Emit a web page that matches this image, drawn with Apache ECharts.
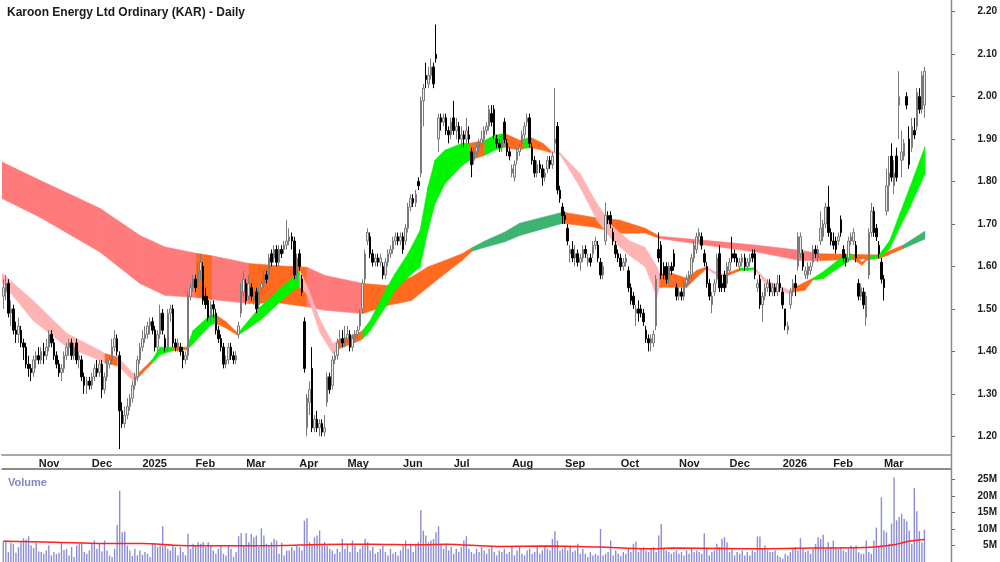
<!DOCTYPE html>
<html>
<head>
<meta charset="utf-8">
<title>KAR Daily</title>
<script src="https://cdn.jsdelivr.net/npm/echarts@6/dist/echarts.min.js"></script>
<style>
  html, body { margin: 0; padding: 0; background: #fff; }
  #chart { width: 1000px; height: 562px; }
</style>
</head>
<body>
<div id="chart"></div>
<script>
// trading days 0..364, Oct 14 2024 -> late Mar 2026
const monthStarts = [14, 35, 55, 76, 96, 117, 136, 158, 178, 201, 222, 244, 267, 287, 308, 328, 348]
const monthNames = ['Nov', 'Dec', '2025', 'Feb', 'Mar', 'Apr', 'May', 'Jun', 'Jul', 'Aug', 'Sep', 'Oct', 'Nov', 'Dec', '2026', 'Feb', 'Mar']
const slotCount = 375

const opens = [
  1.53,1.54,1.56,1.49,1.50,1.45,1.44,1.45,1.42,1.41, 1.37,1.36,1.35,1.38,1.39,1.38,1.40,1.39,1.41,1.44,
  1.42,1.39,1.37,1.35,1.36,1.39,1.41,1.42,1.39,1.42, 1.38,1.38,1.34,1.32,1.33,1.32,1.34,1.36,1.35,1.37,
  1.31,1.34,1.37,1.38,1.41,1.43,1.39,1.26,1.23,1.25, 1.27,1.29,1.32,1.34,1.38,1.41,1.43,1.44,1.46,1.47,
  1.45,1.41,1.44,1.49,1.43,1.41,1.49,1.50,1.42,1.41, 1.41,1.40,1.38,1.39,1.53,1.55,1.57,1.56,1.59,1.60,
  1.53,1.52,1.48,1.51,1.49,1.45,1.43,1.41,1.37,1.38, 1.41,1.39,1.38,1.44,1.49,1.54,1.56,1.53,1.55,1.52,
  1.54,1.51,1.55,1.56,1.58,1.58,1.63,1.62,1.64,1.61, 1.64,1.64,1.65,1.66,1.67,1.66,1.58,1.63,1.57,1.47,
  1.22,1.28,1.36,1.22,1.24,1.22,1.23,1.21,1.28,1.34, 1.32,1.38,1.39,1.42,1.43,1.42,1.43,1.44,1.41,1.43,
  1.44,1.46,1.50,1.57,1.66,1.67,1.63,1.61,1.62,1.61, 1.60,1.58,1.61,1.63,1.64,1.66,1.67,1.66,1.67,1.66,
  1.69,1.74,1.76,1.75,1.80,1.82,1.99,2.05,2.03,2.05, 2.07,2.10,1.90,1.95,1.94,1.95,1.92,1.91,1.95,1.92,
  1.93,1.90,1.91,1.90,1.91,1.87,1.85,1.87,1.88,1.89, 1.90,1.92,1.93,1.96,1.97,1.90,1.89,1.88,1.94,1.89,
  1.87,1.82,1.81,1.85,1.87,1.89,1.91,1.94,1.95,1.88, 1.85,1.82,1.84,1.83,1.81,1.83,1.85,1.84,1.89,1.93,
  1.78,1.74,1.72,1.69,1.63,1.64,1.62,1.63,1.61,1.62, 1.64,1.61,1.62,1.63,1.65,1.65,1.61,1.58,1.66,1.72,
  1.72,1.68,1.65,1.63,1.62,1.60,1.61,1.59,1.55,1.53, 1.49,1.50,1.50,1.49,1.45,1.43,1.42,1.42,1.46,1.64,
  1.65,1.60,1.60,1.57,1.60,1.63,1.55,1.53,1.54,1.53, 1.56,1.57,1.58,1.62,1.64,1.67,1.67,1.63,1.60,1.56,
  1.51,1.54,1.57,1.63,1.56,1.58,1.56,1.59,1.63,1.63, 1.62,1.60,1.61,1.62,1.60,1.61,1.63,1.63,1.55,1.57,
  1.51,1.53,1.55,1.56,1.54,1.55,1.54,1.56,1.54,1.50, 1.45,1.51,1.54,1.56,1.60,1.63,1.63,1.58,1.58,1.59,
  1.61,1.64,1.62,1.66,1.67,1.70,1.74,1.68,1.66,1.66, 1.66,1.71,1.64,1.62,1.62,1.66,1.66,1.65,1.56,1.53,
  1.54,1.48,1.58,1.68,1.73,1.69,1.65,1.61,1.57,1.73, 1.79,1.86,1.79,1.86,1.98,1.85,1.86,2.00,1.90,1.88,
  1.92,1.93,2.00,1.97,1.98
]
const closes = [
  1.55,1.56,1.49,1.50,1.45,1.44,1.46,1.42,1.41,1.37, 1.36,1.35,1.38,1.39,1.38,1.40,1.39,1.41,1.44,1.42,
  1.39,1.37,1.35,1.36,1.39,1.41,1.42,1.39,1.41,1.38, 1.39,1.34,1.32,1.33,1.32,1.34,1.36,1.35,1.37,1.31,
  1.34,1.37,1.38,1.41,1.43,1.40,1.26,1.23,1.25,1.27, 1.29,1.32,1.34,1.38,1.41,1.43,1.44,1.46,1.47,1.45,
  1.41,1.44,1.49,1.45,1.41,1.49,1.50,1.42,1.41,1.42, 1.40,1.38,1.39,1.53,1.55,1.57,1.55,1.59,1.61,1.52,
  1.51,1.48,1.51,1.50,1.45,1.43,1.41,1.37,1.38,1.41, 1.39,1.38,1.39,1.46,1.54,1.57,1.52,1.56,1.53,1.53,
  1.50,1.54,1.56,1.58,1.57,1.62,1.61,1.64,1.61,1.64, 1.63,1.65,1.66,1.67,1.66,1.58,1.62,1.60,1.54,1.36,
  1.29,1.31,1.22,1.24,1.22,1.23,1.21,1.22,1.34,1.31, 1.38,1.39,1.42,1.43,1.42,1.43,1.44,1.41,1.43,1.44,
  1.45,1.49,1.56,1.63,1.68,1.63,1.61,1.62,1.61,1.62, 1.58,1.61,1.63,1.64,1.66,1.67,1.66,1.67,1.64,1.69,
  1.74,1.76,1.75,1.77,1.79,1.99,2.02,2.04,2.05,2.07, 2.03,2.09,1.95,1.94,1.95,1.92,1.91,1.94,1.92,1.93,
  1.90,1.91,1.90,1.92,1.90,1.84,1.87,1.88,1.89,1.90, 1.92,1.93,1.97,1.94,1.91,1.89,1.88,1.90,1.90,1.87,
  1.86,1.83,1.84,1.87,1.88,1.91,1.93,1.95,1.89,1.85, 1.82,1.84,1.83,1.81,1.82,1.85,1.84,1.86,1.90,1.78,
  1.76,1.72,1.71,1.66,1.64,1.62,1.63,1.61,1.62,1.64, 1.63,1.62,1.61,1.65,1.66,1.62,1.58,1.60,1.72,1.71,
  1.70,1.66,1.63,1.62,1.60,1.61,1.62,1.55,1.52,1.51, 1.50,1.49,1.49,1.47,1.43,1.42,1.43,1.44,1.57,1.62,
  1.58,1.58,1.57,1.60,1.59,1.60,1.53,1.54,1.53,1.56, 1.57,1.58,1.62,1.65,1.67,1.68,1.65,1.61,1.56,1.53,
  1.53,1.56,1.62,1.55,1.55,1.55,1.60,1.61,1.62,1.62, 1.61,1.61,1.62,1.60,1.61,1.62,1.62,1.58,1.56,1.51,
  1.53,1.55,1.56,1.54,1.55,1.54,1.56,1.55,1.51,1.46, 1.46,1.54,1.56,1.55,1.67,1.67,1.60,1.59,1.60,1.60,
  1.64,1.63,1.64,1.69,1.70,1.74,1.68,1.66,1.65,1.64, 1.67,1.68,1.62,1.61,1.66,1.67,1.68,1.62,1.53,1.55,
  1.51,1.53,1.68,1.73,1.68,1.67,1.63,1.57,1.55,1.79, 1.82,1.81,1.82,1.81,2.00,1.87,1.89,1.98,1.84,1.93,
  1.91,2.01,1.97,2.05,2.06
]
const lows = [
  1.50,1.52,1.48,1.46,1.44,1.42,1.42,1.41,1.38,1.36, 1.34,1.33,1.34,1.36,1.37,1.37,1.37,1.38,1.40,1.41,
  1.38,1.36,1.34,1.33,1.35,1.38,1.39,1.38,1.38,1.37, 1.36,1.33,1.30,1.30,1.31,1.31,1.33,1.34,1.34,1.29,
  1.30,1.33,1.36,1.37,1.40,1.39,1.17,1.22,1.22,1.24, 1.26,1.28,1.31,1.33,1.37,1.40,1.42,1.43,1.44,1.44,
  1.40,1.40,1.43,1.44,1.40,1.40,1.47,1.41,1.40,1.40, 1.39,1.36,1.37,1.38,1.52,1.54,1.54,1.55,1.57,1.51,
  1.50,1.47,1.47,1.48,1.44,1.42,1.40,1.36,1.36,1.37, 1.38,1.37,1.37,1.43,1.48,1.53,1.51,1.52,1.52,1.51,
  1.49,1.50,1.54,1.55,1.56,1.57,1.60,1.61,1.60,1.60, 1.62,1.63,1.64,1.65,1.64,1.57,1.57,1.59,1.53,1.35,
  1.20,1.25,1.21,1.21,1.21,1.20,1.20,1.20,1.27,1.30, 1.31,1.37,1.38,1.41,1.41,1.41,1.42,1.40,1.40,1.42,
  1.43,1.45,1.49,1.56,1.65,1.62,1.60,1.60,1.60,1.60, 1.57,1.57,1.60,1.62,1.63,1.65,1.65,1.65,1.63,1.65,
  1.68,1.73,1.74,1.74,1.78,1.81,1.93,2.02,2.02,2.04, 2.02,2.08,1.87,1.92,1.93,1.91,1.89,1.90,1.91,1.90,
  1.89,1.88,1.88,1.89,1.89,1.81,1.84,1.86,1.87,1.88, 1.89,1.91,1.92,1.93,1.90,1.88,1.87,1.87,1.89,1.86,
  1.85,1.81,1.80,1.84,1.86,1.88,1.90,1.93,1.88,1.84, 1.81,1.81,1.82,1.79,1.80,1.82,1.83,1.83,1.87,1.77,
  1.75,1.70,1.70,1.65,1.61,1.61,1.60,1.60,1.59,1.61, 1.62,1.60,1.60,1.62,1.64,1.61,1.57,1.57,1.65,1.70,
  1.69,1.65,1.62,1.61,1.59,1.59,1.60,1.54,1.51,1.50, 1.46,1.47,1.48,1.46,1.42,1.40,1.40,1.41,1.45,1.61,
  1.57,1.57,1.56,1.56,1.58,1.59,1.52,1.52,1.52,1.52, 1.55,1.56,1.57,1.61,1.63,1.66,1.64,1.60,1.55,1.52,
  1.49,1.53,1.56,1.54,1.54,1.54,1.55,1.58,1.61,1.61, 1.60,1.59,1.60,1.59,1.59,1.60,1.61,1.57,1.54,1.50,
  1.47,1.52,1.54,1.53,1.53,1.53,1.53,1.54,1.50,1.45, 1.44,1.50,1.53,1.53,1.59,1.62,1.59,1.57,1.57,1.58,
  1.60,1.62,1.61,1.65,1.66,1.69,1.67,1.65,1.64,1.63, 1.65,1.67,1.61,1.60,1.61,1.65,1.65,1.61,1.52,1.52,
  1.50,1.46,1.57,1.67,1.67,1.66,1.62,1.56,1.52,1.72, 1.73,1.80,1.77,1.80,1.90,1.81,1.85,1.97,1.83,1.87,
  1.90,1.92,1.96,1.96,1.95
]
const highs = [
  1.57,1.58,1.57,1.52,1.51,1.47,1.48,1.46,1.43,1.42, 1.39,1.37,1.39,1.40,1.41,1.41,1.42,1.43,1.45,1.45,
  1.43,1.40,1.38,1.37,1.40,1.42,1.43,1.43,1.42,1.43, 1.40,1.39,1.35,1.34,1.34,1.35,1.37,1.38,1.38,1.38,
  1.35,1.38,1.39,1.43,1.45,1.44,1.40,1.28,1.27,1.29, 1.30,1.33,1.35,1.39,1.42,1.45,1.46,1.47,1.48,1.48,
  1.46,1.45,1.51,1.50,1.44,1.50,1.51,1.51,1.43,1.43, 1.42,1.41,1.40,1.54,1.56,1.58,1.58,1.61,1.63,1.61,
  1.55,1.53,1.52,1.52,1.50,1.46,1.44,1.42,1.39,1.42, 1.42,1.40,1.40,1.47,1.56,1.59,1.57,1.58,1.56,1.54,
  1.55,1.55,1.57,1.59,1.59,1.63,1.64,1.65,1.65,1.65, 1.65,1.66,1.71,1.69,1.68,1.67,1.63,1.64,1.58,1.48,
  1.30,1.33,1.41,1.25,1.26,1.24,1.24,1.25,1.35,1.35, 1.39,1.40,1.43,1.45,1.45,1.46,1.46,1.45,1.44,1.45,
  1.46,1.50,1.57,1.64,1.69,1.68,1.64,1.63,1.63,1.63, 1.61,1.62,1.64,1.65,1.67,1.68,1.68,1.68,1.68,1.70,
  1.75,1.77,1.77,1.78,1.81,2.00,2.03,2.08,2.07,2.09, 2.08,2.17,1.96,1.96,1.96,1.96,1.93,1.95,1.99,1.95,
  1.94,1.93,1.92,1.95,1.93,1.88,1.88,1.89,1.90,1.92, 1.93,1.94,1.98,1.98,1.98,1.91,1.90,1.91,1.95,1.90,
  1.88,1.84,1.85,1.88,1.89,1.92,1.94,1.96,1.96,1.89, 1.86,1.85,1.85,1.84,1.83,1.86,1.86,1.87,2.02,1.94,
  1.79,1.75,1.73,1.70,1.65,1.66,1.65,1.64,1.63,1.65, 1.65,1.63,1.63,1.66,1.67,1.66,1.62,1.61,1.75,1.73,
  1.73,1.69,1.66,1.64,1.63,1.62,1.63,1.60,1.56,1.54, 1.51,1.52,1.51,1.50,1.46,1.44,1.44,1.45,1.58,1.68,
  1.66,1.61,1.61,1.61,1.61,1.64,1.56,1.55,1.55,1.57, 1.58,1.59,1.63,1.66,1.68,1.69,1.68,1.64,1.61,1.57,
  1.54,1.57,1.63,1.65,1.58,1.59,1.61,1.62,1.67,1.64, 1.63,1.62,1.63,1.63,1.62,1.63,1.64,1.64,1.57,1.58,
  1.54,1.56,1.57,1.57,1.56,1.56,1.58,1.58,1.55,1.50, 1.47,1.55,1.57,1.58,1.68,1.68,1.64,1.60,1.61,1.61,
  1.65,1.65,1.65,1.73,1.71,1.75,1.79,1.69,1.68,1.67, 1.68,1.72,1.65,1.63,1.67,1.68,1.69,1.66,1.57,1.56,
  1.55,1.54,1.69,1.75,1.74,1.70,1.66,1.62,1.58,1.83, 1.86,1.89,1.85,1.88,2.06,1.92,1.90,2.01,1.93,1.95,
  1.95,2.02,2.02,2.06,2.07
]

// volume in millions
const volume = [
  6.2,6.5,3.0,5.8,5.5,2.8,4.5,6.0,7.2,6.8, 7.8,5.0,4.2,6.0,3.2,3.0,2.5,3.5,5.0,2.0,
  3.0,2.4,2.8,6.0,3.6,4.0,2.0,4.5,1.5,5.0, 5.5,5.8,3.0,2.5,3.5,5.5,6.5,4.0,5.5,3.2,
  6.5,3.5,2.0,1.5,4.0,11.2,21.5,9.0,9.2,5.0, 3.5,1.8,4.0,2.0,3.5,2.2,3.0,2.5,1.5,5.5,
  5.5,4.5,5.0,10.8,5.0,4.0,3.5,5.0,4.5,2.0, 4.5,3.0,2.0,8.5,4.0,5.5,5.0,6.0,5.5,6.0,
  4.5,6.0,5.0,3.5,2.5,4.0,5.0,2.5,2.0,5.0, 4.0,1.5,3.0,7.8,8.8,5.0,8.8,6.0,8.5,7.5,
  8.0,4.5,10.2,8.0,5.5,5.0,6.0,7.0,6.5,2.5, 5.8,2.0,3.5,3.5,4.5,3.5,5.0,4.5,3.5,12.5,
  13.2,6.0,5.5,7.5,8.0,9.5,5.5,6.0,5.0,4.0, 3.5,2.5,4.0,3.0,7.0,4.0,5.5,3.0,6.5,5.0,
  3.0,4.0,5.0,7.0,6.0,3.5,4.5,2.5,3.0,4.0, 5.0,3.0,2.0,4.0,2.5,3.0,2.0,3.5,5.0,6.5,
  4.0,5.5,3.0,5.5,6.0,15.6,9.5,8.0,6.0,6.5, 7.0,9.0,10.8,5.5,4.0,5.5,3.5,4.5,2.5,4.0,
  3.0,4.5,6.5,7.8,4.0,3.0,2.5,4.0,3.0,4.5, 3.5,2.5,4.0,4.5,3.0,2.0,3.5,3.0,4.0,2.5,
  3.0,4.5,2.0,3.5,4.5,2.5,2.0,3.5,4.0,2.5, 3.0,4.5,2.5,3.5,5.0,4.0,3.5,7.0,9.3,6.5,
  3.5,4.0,5.0,3.5,4.5,3.0,3.5,5.5,2.5,4.0, 2.5,1.5,3.0,2.0,2.5,2.0,10.0,2.0,2.5,3.0,
  6.5,2.0,3.5,2.5,1.8,3.0,2.5,4.0,3.0,5.5, 6.2,3.0,4.0,4.5,3.5,3.0,4.0,4.5,3.0,8.0,
  11.5,4.0,3.5,3.0,2.5,3.0,3.5,2.5,3.0,2.0, 3.5,2.5,4.0,3.0,3.5,3.0,2.5,8.7,4.0,2.0,
  3.0,3.5,5.5,4.5,7.0,7.5,6.0,3.0,4.0,2.0, 3.0,2.5,3.5,2.0,3.0,2.0,3.5,3.0,7.7,7.7,
  4.0,5.0,3.5,3.0,3.0,3.5,2.0,1.5,1.0,2.5, 2.0,3.0,4.0,4.5,3.5,7.2,4.0,3.0,3.5,2.5,
  4.0,5.5,7.5,7.0,8.2,4.0,6.0,4.5,6.5,4.5, 4.0,4.5,3.5,3.0,4.0,5.0,4.5,5.0,3.0,2.5,
  2.5,6.5,3.0,2.5,6.5,10.4,4.5,19.5,9.5,9.0, 5.5,11.6,25.5,12.6,13.6,14.6,13.1,12.3,9.5,5.5,
  22.3,15.3,9.3,6.0,9.8
]
// volume moving average read at [day, millions]
const volumeAvg = [
  [0, 6.3], [20, 6.0], [40, 5.6], [55, 5.6], [70, 5.0], [90, 4.9], [110, 5.0], [125, 5.3],
  [145, 5.4], [165, 5.2], [175, 5.4], [195, 4.7], [215, 4.8], [235, 4.5], [255, 4.0], [265, 4.2],
  [285, 4.1], [300, 4.0], [320, 4.2], [340, 4.4], [346, 4.7], [352, 5.2], [356, 6.0], [360, 6.5], [364, 6.8]
]

// ribbons: [day, lower, upper, colour key of the segment that starts here]
const longBand = [
  [-0.5, 1.760, 1.846, 'r'], [14.5, 1.716, 1.803, 'r'], [38.2, 1.634, 1.737, 'r'], [54, 1.560, 1.673, 'r'],
  [63.9, 1.532, 1.646, 'r'], [76.2, 1.527, 1.631, 'o'], [82.5, 1.522, 1.625, 'r'], [97.1, 1.513, 1.607, 'o'],
  [108, 1.515, 1.602, 'o'], [120, 1.505, 1.598, 'r'], [127.1, 1.497, 1.579, 'r'], [142.1, 1.489, 1.560, 'o'],
  [151.6, 1.508, 1.555, 'o'], [161.3, 1.520, 1.575, 'o'], [167.8, 1.551, 1.599, 'o'], [174.5, 1.583, 1.614, 'o'],
  [181.3, 1.614, 1.630, 'o'], [185.2, 1.636, 1.644, 't'], [190.3, 1.645, 1.660, 't'], [198.2, 1.658, 1.681, 't'],
  [204.1, 1.673, 1.702, 't'], [221.1, 1.702, 1.728, 'o'], [233, 1.693, 1.716, 'o'],
  [243.7, 1.678, 1.709, 'o'], [253.6, 1.679, 1.690, 'o'], [259.4, 1.666, 1.671, 'r'], [278, 1.650, 1.661, 'r'],
  [297.8, 1.634, 1.650, 'r'], [314.8, 1.614, 1.638, 'r'], [322.7, 1.614, 1.630, 'o'], [346.4, 1.619, 1.627, 'o'],
  [355.5, 1.642, 1.650, 't'], [364.2, 1.665, 1.683, 't']
]
const shortBand = [
  [-0.5, 1.563, 1.584, 'p'], [11.75, 1.473, 1.520, 'p'], [25.2, 1.410, 1.442, 'p'], [38.2, 1.379, 1.402, 'p'],
  [40.2, 1.372, 1.395, 'o'], [45.3, 1.366, 1.386, 'p'], [51.3, 1.331, 1.348, 'p'], [52.8, 1.335, 1.345, 'o'],
  [58.8, 1.372, 1.380, 'g'], [61.9, 1.392, 1.410, 'g'], [67.1, 1.402, 1.410, 'o'], [72.6, 1.404, 1.410, 'g'],
  [75, 1.418, 1.449, 'g'], [81.7, 1.461, 1.485, 'g'], [83.7, 1.466, 1.487, 'o'], [88, 1.455, 1.470, 'o'],
  [92.7, 1.438, 1.443, 'g'], [101.4, 1.473, 1.504, 'g'], [114.5, 1.544, 1.575, 'g'], [117.2, 1.551, 1.591, 'p'],
  [120, 1.535, 1.555, 'p'], [125.1, 1.445, 1.475, 'p'], [130.3, 1.394, 1.418, 'p'], [132.3, 1.405, 1.426, 'o'],
  [141, 1.426, 1.445, 'o'], [142.1, 1.430, 1.450, 'g'], [145, 1.449, 1.473, 'g'], [151.6, 1.510, 1.550, 'g'],
  [154.8, 1.544, 1.583, 'g'], [159.9, 1.575, 1.630, 'g'], [164.7, 1.599, 1.685, 'g'], [167.8, 1.685, 1.787, 'g'],
  [170.6, 1.748, 1.850, 'g'], [174.5, 1.795, 1.874, 'g'], [181.3, 1.838, 1.890, 'g'], [184.4, 1.850, 1.890, 'o'],
  [190.3, 1.862, 1.897, 'g'], [194.2, 1.874, 1.909, 'g'], [198.2, 1.881, 1.913, 'o'], [204.1, 1.874, 1.897, 'o'],
  [206, 1.878, 1.900, 'g'], [208.1, 1.880, 1.905, 'o'], [213.2, 1.874, 1.890, 'o'], [216.5, 1.868, 1.872, 'p'],
  [220, 1.864, 1.868, 'p'], [227.9, 1.787, 1.819, 'p'], [234.6, 1.709, 1.748, 'p'], [240.9, 1.661, 1.693, 'p'],
  [247.6, 1.625, 1.660, 'p'], [253.6, 1.600, 1.645, 'p'], [258.3, 1.528, 1.599, 'p'], [259.4, 1.551, 1.583, 'o'],
  [264.6, 1.551, 1.583, 'o'], [270.1, 1.551, 1.572, 'o'], [274.1, 1.575, 1.591, 'o'], [278, 1.595, 1.599, 'p'],
  [280.4, 1.585, 1.590, 'p'], [283, 1.577, 1.582, 'p'], [286.3, 1.579, 1.584, 'o'], [291.1, 1.590, 1.596, 'g'],
  [297, 1.592, 1.597, 'p'], [301.7, 1.555, 1.567, 'p'], [310.8, 1.536, 1.544, 'p'], [312, 1.540, 1.549, 'o'],
  [316.8, 1.544, 1.563, 'o'], [319.9, 1.568, 1.572, 'g'], [323.9, 1.571, 1.587, 'g'], [330.5, 1.599, 1.618, 'g'],
  [334.5, 1.614, 1.630, 'g'], [335.7, 1.618, 1.628, 'o'], [339.3, 1.603, 1.610, 'o'], [341.3, 1.615, 1.619, 'g'],
  [346.4, 1.621, 1.630, 'g'], [350.3, 1.642, 1.661, 'g'], [354.3, 1.693, 1.725, 'g'], [358.3, 1.740, 1.787, 'g'],
  [364.2, 1.818, 1.882, 'g']
]

const bandColors = { r: '#ff7b7b', p: '#ffb4b4', o: '#ff6a1f', g: '#00f500', t: '#3cb371' }
const font = "'Liberation Sans', Arial, sans-serif"

const chart = echarts.init(document.getElementById('chart'))

const slots = Array.from({ length: slotCount }, (_, i) => String(i))
const candles = opens.map((o, i) => [o, closes[i], lows[i], highs[i]])
const isMonthStart = (i) => monthStarts.includes(i)

function bandSeries(points, name) {
  return {
    name: name,
    type: 'custom',
    xAxisIndex: 2,
    yAxisIndex: 0,
    clip: true,
    silent: true,
    data: points.map(p => [p[0], p[1], p[2]]),
    encode: { x: 0, y: [1, 2] },
    renderItem: (params, api) => {
      const i = params.dataIndex
      if (i >= points.length - 1) return null
      const a = points[i]
      const b = points[i + 1]
      const color = bandColors[a[3]]
      return {
        type: 'polygon',
        shape: {
          points: [
            api.coord([a[0], a[2]]), api.coord([b[0], b[2]]),
            api.coord([b[0], b[1]]), api.coord([a[0], a[1]])
          ]
        },
        style: { fill: color, stroke: color, lineWidth: 0.6 }
      }
    }
  }
}

chart.setOption({
  animation: false,
  backgroundColor: '#ffffff',
  textStyle: { fontFamily: font },
  title: [
    {
      text: 'Karoon Energy Ltd Ordinary (KAR) - Daily',
      left: 2, top: 2,
      textStyle: { fontFamily: font, fontSize: 12, fontWeight: 'bold', color: '#1a1a1a' }
    },
    {
      text: 'Volume',
      left: 3, top: 472,
      textStyle: { fontFamily: font, fontSize: 11, fontWeight: 'bold', color: '#8585c8' }
    }
  ],
  grid: [
    { left: 2, right: 49, top: 0, height: 455 },
    { left: 2, right: 49, top: 469, height: 93 }
  ],
  xAxis: [
    {
      type: 'category', gridIndex: 0, data: slots, boundaryGap: true,
      axisLine: { onZero: false, lineStyle: { color: '#a8a8a8', width: 2 } },
      axisTick: { interval: (i) => isMonthStart(i), length: 4, lineStyle: { color: '#555' } },
      axisLabel: {
        interval: (i) => isMonthStart(i),
        formatter: (v) => monthNames[monthStarts.indexOf(Number(v))] || '',
        align: 'left', margin: 3,
        fontFamily: font, fontSize: 11, fontWeight: 'bold', color: '#1a1a1a'
      },
      splitLine: { show: false }
    },
    {
      type: 'category', gridIndex: 1, data: slots, boundaryGap: true, position: 'top',
      axisLine: { onZero: false, lineStyle: { color: '#666', width: 1.5 } },
      axisTick: { show: false }, axisLabel: { show: false }, splitLine: { show: false }
    },
    { type: 'value', gridIndex: 0, min: -0.5, max: slotCount - 0.5, show: false, axisLine: { onZero: false } },
    { type: 'value', gridIndex: 1, min: -0.5, max: slotCount - 0.5, show: false, axisLine: { onZero: false } }
  ],
  yAxis: [
    {
      type: 'value', gridIndex: 0, position: 'right', min: 1.156, max: 2.2276,
      axisLine: { show: false, onZero: false },
      axisTick: { show: true, length: 4, customValues: [1.2, 1.3, 1.4, 1.5, 1.6, 1.7, 1.8, 1.9, 2.0, 2.1, 2.2], lineStyle: { color: '#666' } },
      axisLabel: {
        customValues: [1.2, 1.3, 1.4, 1.5, 1.6, 1.7, 1.8, 1.9, 2.0, 2.1, 2.2],
        formatter: (v) => v.toFixed(2),
        align: 'right', margin: 46,
        fontFamily: font, fontSize: 10, fontWeight: 'bold', color: '#1a1a1a'
      },
      splitLine: { show: false }
    },
    {
      type: 'value', gridIndex: 1, position: 'right', min: 0, max: 28.1,
      axisLine: { show: false, onZero: false },
      axisTick: { show: true, length: 4, customValues: [5, 10, 15, 20, 25], lineStyle: { color: '#666' } },
      axisLabel: {
        customValues: [5, 10, 15, 20, 25],
        formatter: (v) => v + 'M',
        align: 'right', margin: 46,
        fontFamily: font, fontSize: 10, fontWeight: 'bold', color: '#1a1a1a'
      },
      splitLine: { show: false }
    }
  ],
  graphic: [
    {
      type: 'line', silent: true, z: 100,
      shape: { x1: 951.5, y1: 0, x2: 951.5, y2: 562 },
      style: { stroke: '#8a8a8a', lineWidth: 1.5 }
    }
  ],
  series: [
    bandSeries(longBand, 'long'),
    bandSeries(shortBand, 'short'),
    {
      name: 'KAR',
      type: 'candlestick',
      xAxisIndex: 0, yAxisIndex: 0,
      barWidth: 2,
      data: candles,
      itemStyle: {
        color: '#ececec', color0: '#000000',
        borderColor: '#7a7a7a', borderColor0: '#000000',
        borderWidth: 1
      }
    },
    {
      name: 'Volume',
      type: 'bar',
      xAxisIndex: 1, yAxisIndex: 1,
      barWidth: '55%',
      data: volume,
      itemStyle: { color: '#8c8cd6' }
    },
    {
      name: 'Volume avg',
      type: 'line',
      xAxisIndex: 3, yAxisIndex: 1,
      data: volumeAvg,
      symbol: 'none',
      smooth: 0.3,
      lineStyle: { color: '#ff2020', width: 1.5 },
      z: 5
    }
  ]
})
</script>
</body>
</html>
